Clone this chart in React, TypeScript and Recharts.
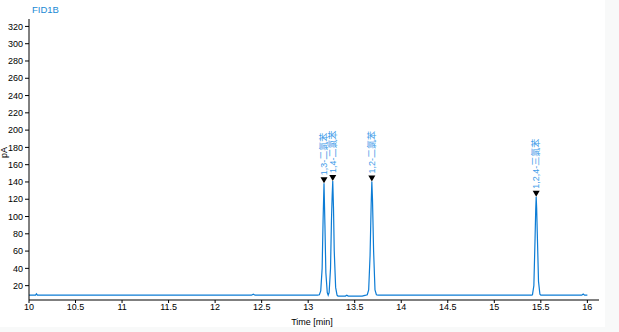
import React from "react"
import { ComposedChart, Line, Scatter, XAxis, YAxis } from "recharts"

// retention time (min) and detector signal (pA)
const times = [
  10, 10.07, 10.08, 10.09, 12.39, 12.41, 12.43, 13.1, 13.12, 13.135, 13.15, 13.16, 13.17, 13.18,
  13.19, 13.205, 13.215, 13.225, 13.24, 13.25, 13.258, 13.264, 13.272, 13.28, 13.295, 13.31, 13.32,
  13.4, 13.415, 13.43, 13.58, 13.62, 13.635, 13.65, 13.665, 13.677, 13.684, 13.691, 13.703, 13.718,
  13.733, 13.75, 13.8, 15.4, 15.41, 15.425, 15.438, 15.445, 15.45, 15.455, 15.462, 15.475, 15.49,
  15.5, 15.94, 15.955, 15.97, 16.0,
]
const signal = [
  9, 9, 10.5, 9, 9, 10.2, 9, 9, 9.5, 14, 40, 95, 138.6, 90,
  35, 12, 9, 12, 40, 95, 125, 141, 110, 60, 18, 9, 8,
  8, 9, 8, 8, 9, 9.5, 15, 55, 115, 140.5, 120, 60, 15,
  9.5, 9, 9, 9, 9.5, 20, 75, 108, 123, 110, 80, 25, 10,
  9, 9, 10.3, 9, 9,
]

const peakTimes = [13.17, 13.264, 13.684, 15.45]
const peakHeights = [138.6, 141, 140.5, 123]
const peakNames = ["1,3-二氯苯", "1,4-二氯苯", "1,2-二氯苯", "1,2,4-三氯苯"]

const xTicks = [10, 10.5, 11, 11.5, 12, 12.5, 13, 13.5, 14, 14.5, 15, 15.5, 16]
const yTicks = [20, 40, 60, 80, 100, 120, 140, 160, 180, 200, 220, 240, 260, 280, 300, 320]

const trace = times.map((t, i) => ({ t, v: signal[i] }))
const peaks = peakTimes.map((t, i) => ({ t, v: peakHeights[i], name: peakNames[i] }))

const font = "'Liberation Sans', Arial, 'Noto Sans CJK SC', sans-serif"

const PeakMark = (props: any) => {
  const { cx, cy, payload } = props
  if (cx == null || cy == null) return null
  return (
    <g>
      <polygon points={`${cx - 3.5},${cy - 6} ${cx + 3.5},${cy - 6} ${cx},${cy}`} fill="#000" />
      <g transform={`translate(${cx},${cy - 8}) rotate(-90)`}>
        <text x={0} y={0} dy="0.35em" fontSize={9} fill="#3d9be9" fontFamily={font}>
          {payload.name}
        </text>
      </g>
    </g>
  )
}

export default function App() {
  return (
    <div style={{ position: "absolute", left: 0, top: 0, width: 619, height: 332, background: "#f8f9f9" }}>
      <div style={{ position: "absolute", left: 0, top: 0, width: 605, height: 327, background: "#fff" }} />
      <div style={{ position: "absolute", left: 0, top: 0 }}>
        <ComposedChart width={619} height={332} margin={{ top: 19, right: 20, left: 1, bottom: 8 }}>
          <text x={32} y={13} fontSize={9.5} fill="#1a8ad4" fontFamily={font}>FID1B</text>
          <text x={7} y={158} fontSize={9} fill="#000" fontFamily={font} transform="rotate(-90 7 158)">pA</text>
          <text x={312} y={325} fontSize={9} fill="#000" fontFamily={font} textAnchor="middle">Time [min]</text>
          <XAxis
            dataKey="t"
            type="number"
            domain={[10, 16.125]}
            ticks={xTicks}
            allowDataOverflow
            height={24}
            tickSize={3}
            tickMargin={1}
            stroke="#000"
            tick={{ fill: "#000", fontSize: 9, fontFamily: font }}
          />
          <XAxis xAxisId="top" orientation="top" type="number" domain={[10, 16.125]} height={0} tick={false} tickLine={false} stroke="#000" />
          <YAxis
            type="number"
            domain={[3.4, 328.6]}
            ticks={yTicks}
            allowDataOverflow
            width={28}
            tickSize={4}
            tickMargin={2}
            stroke="#000"
            tick={{ fill: "#000", fontSize: 9, fontFamily: font }}
          />
          <YAxis yAxisId="right" orientation="right" domain={[0, 1]} width={0} tick={false} tickLine={false} stroke="#000" />
          <Line
            data={trace}
            dataKey="v"
            type="linear"
            stroke="#0c7cd5"
            strokeWidth={1.2}
            dot={false}
            isAnimationActive={false}
          />
          <Scatter data={peaks} dataKey="v" shape={<PeakMark />} isAnimationActive={false} />
        </ComposedChart>
      </div>
    </div>
  )
}
